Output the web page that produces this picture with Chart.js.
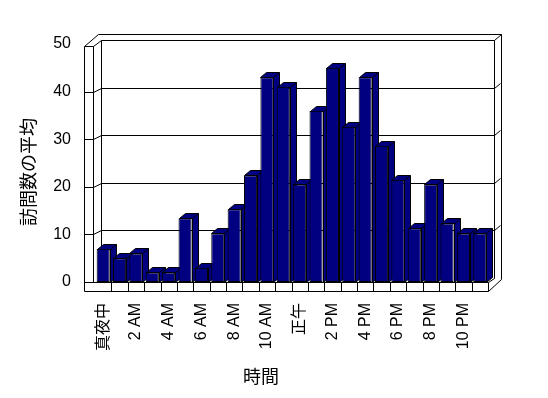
<!DOCTYPE html>
<html>
<head>
<meta charset="utf-8">
<script src="https://cdn.jsdelivr.net/npm/chart.js@4.4.0/dist/chart.umd.min.js"></script>
<style>
  body { margin: 0; background: #fff; }
  #wrap { width: 548px; height: 398px; }
</style>
</head>
<body>
<div id="wrap"><canvas id="myChart"></canvas></div>
<script>
const hours = [
  "真夜中", "1 AM", "2 AM", "3 AM", "4 AM", "5 AM",
  "6 AM", "7 AM", "8 AM", "9 AM", "10 AM", "11 AM",
  "正午", "1 PM", "2 PM", "3 PM", "4 PM", "5 PM",
  "6 PM", "7 PM", "8 PM", "9 PM", "10 PM", "11 PM",
];
const visits = [
  7, 5, 6, 2, 2, 13.4, 3, 10.2, 15.3, 22.4, 43, 41,
  20.5, 36, 45, 32.6, 43, 28.6, 21.5, 11.3, 20.5, 12.3, 10.2, 10.2,
];
const yTicks = [0, 10, 20, 30, 40, 50];
const yTitle = "訪問数の平均";
const xTitle = "時間";

const FONT = '"Liberation Sans", "Noto Sans CJK JP", sans-serif';
const BAR = "#000080";

// pixel offsets of the fake 3D box
const BX = 6, BY = 4;   // back wall shift
const DX = 6, DY = 5;   // bar depth

function line(ctx, pts) {
  ctx.beginPath();
  ctx.moveTo(Math.round(pts[0][0]) + 0.5, Math.round(pts[0][1]) + 0.5);
  for (let i = 1; i < pts.length; i++) {
    ctx.lineTo(Math.round(pts[i][0]) + 0.5, Math.round(pts[i][1]) + 0.5);
  }
  ctx.stroke();
}

const box3d = {
  id: "box3d",
  beforeDatasetsDraw(chart) {
    const ctx = chart.ctx;
    const { left: L, right: R, top: T, bottom: B } = chart.chartArea;
    const ys = chart.scales.y;
    const xs = chart.scales.x;
    ctx.save();
    ctx.strokeStyle = "#000";
    ctx.lineWidth = 1;

    // back wall + gridlines
    line(ctx, [[L + BX, B - BY], [L + BX, T - BY], [R + BX, T - BY], [R + BX, B - BY]]);
    yTicks.forEach((v) => {
      if (v === 0 || v === 50) return;
      const yf = ys.getPixelForValue(v);
      line(ctx, [[L + BX, yf - BY], [R + BX, yf - BY]]);
      line(ctx, [[R + BX, yf - BY], [R + BX + 6, yf - BY - 5]]);
      // left wall ticks
      line(ctx, [[L - 11, yf], [L - 2.5, yf], [L + BX, yf - BY]]);
    });

    // outer top edge and right edge
    line(ctx, [[L - 11, T + 2], [L + 3, T - 10], [R + 12.5, T - 10], [R + 12.5, B - 3]]);
    line(ctx, [[R + 12.5, T - 10], [R + BX, T - BY]]);

    // left wall
    line(ctx, [[L - 11, T + 2], [L - 11, B + 9]]);
    line(ctx, [[L - 2.5, B], [L - 2.5, T + 2], [L - 11, T + 2]]);
    line(ctx, [[L - 2.5, T + 2], [L + BX, T - BY]]);

    // floor front
    line(ctx, [[L - 11, B], [R, B], [R, B + 9], [L - 11, B + 9]]);
    const cw = (R - L) / hours.length;
    for (let i = 1; i < hours.length; i++) {
      const x = xs.getPixelForValue(i) - cw / 2;
      line(ctx, [[x, B], [x, B + 9]]);
    }
    line(ctx, [[R, B + 9], [R + 12.5, B - 3]]);
    line(ctx, [[R, B], [R + BX, B - BY]]);

    // bar tops and sides
    const meta = chart.getDatasetMeta(0);
    ctx.fillStyle = BAR;
    meta.data.forEach((el) => {
      const { x, y, base, width } = el.getProps(["x", "y", "base", "width"], true);
      const l = Math.round(x - width / 2), r = Math.round(x + width / 2);
      const t = Math.round(y), b = Math.round(base);
      ctx.beginPath();
      ctx.moveTo(l + 0.5, t + 0.5);
      ctx.lineTo(l + DX + 0.5, t - DY + 0.5);
      ctx.lineTo(r + DX + 0.5, t - DY + 0.5);
      ctx.lineTo(r + DX + 0.5, b - DY + 0.5);
      ctx.lineTo(r + 0.5, b + 0.5);
      ctx.lineTo(r + 0.5, t + 0.5);
      ctx.closePath();
      ctx.fill();
      ctx.stroke();
      line(ctx, [[r, t], [r + DX, t - DY]]);
    });
    ctx.restore();
  },
  afterDraw(chart) {
    const ctx = chart.ctx;
    ctx.save();
    ctx.fillStyle = "#000";
    ctx.font = "18px " + FONT;
    ctx.textAlign = "center";
    ctx.textBaseline = "middle";
    ctx.fillText(xTitle, 261, 378);
    ctx.translate(30, 172);
    ctx.rotate(-Math.PI / 2);
    ctx.fillText(yTitle, 0, 0);
    ctx.restore();
  },
};

const ctx = document.getElementById("myChart");
new Chart(ctx, {
  type: "bar",
  data: {
    labels: hours,
    datasets: [
      {
        data: visits,
        backgroundColor: BAR,
        borderColor: "#000",
        borderWidth: 1,
        borderSkipped: false,
        barPercentage: 0.8,
        categoryPercentage: 1,
      },
    ],
  },
  options: {
    responsive: true,
    maintainAspectRatio: false,
    animation: false,
    layout: { padding: { top: 44, right: 60, left: 0, bottom: 0 } },
    plugins: { legend: { display: false }, tooltip: { enabled: false } },
    scales: {
      x: {
        grid: { display: false, drawTicks: false },
        border: { display: false },
        afterFit: (scale) => { scale.height = 116; },
        ticks: {
          autoSkip: false,
          minRotation: 90,
          maxRotation: 90,
          padding: 21,
          color: "#000",
          font: { family: FONT, size: 16 },
          callback: (val, i) => (i % 2 === 0 ? hours[i] : ""),
        },
      },
      y: {
        min: 0,
        max: 50,
        grid: { display: false, drawTicks: false },
        border: { display: false },
        afterFit: (scale) => { scale.width = 95; },
        ticks: {
          stepSize: 10,
          padding: 24,
          color: "#000",
          font: { family: FONT, size: 16 },
        },
      },
    },
  },
  plugins: [box3d],
});
</script>
</body>
</html>
